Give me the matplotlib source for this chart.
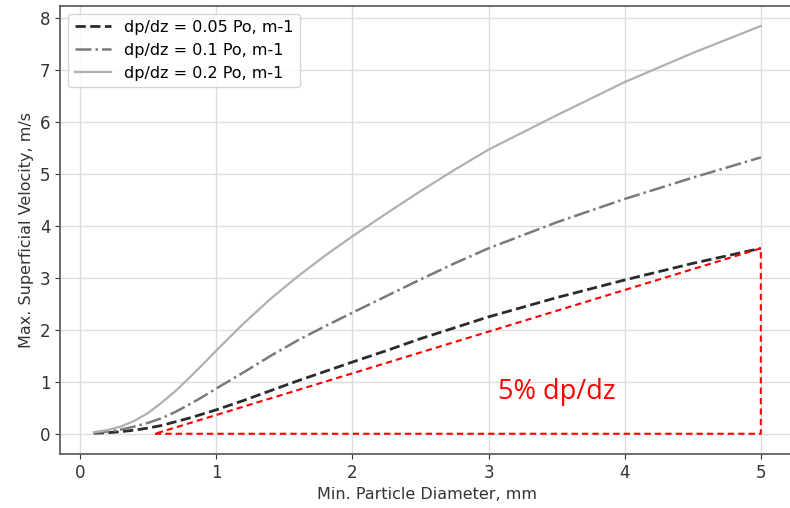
import matplotlib.pyplot as plt

# particle diameter, mm
diameter = [0.1, 0.2, 0.3, 0.4, 0.5, 0.6, 0.7, 0.8, 0.9, 1.0, 1.2, 1.4, 1.6, 1.8,
            2.0, 2.25, 2.5, 2.75, 3.0, 3.5, 4.0, 4.5, 5.0]

# max superficial velocity, m/s, for each pressure gradient
vel_005 = [0.01, 0.02, 0.04, 0.07, 0.11, 0.16, 0.23, 0.30, 0.38, 0.46, 0.64, 0.83, 1.02, 1.20,
           1.38, 1.60, 1.83, 2.04, 2.25, 2.62, 2.96, 3.28, 3.57]
vel_01 = [0.02, 0.04, 0.08, 0.14, 0.21, 0.30, 0.42, 0.56, 0.71, 0.87, 1.18, 1.50, 1.80, 2.07,
          2.33, 2.65, 2.97, 3.28, 3.57, 4.07, 4.52, 4.93, 5.32]
vel_02 = [0.03, 0.07, 0.14, 0.25, 0.40, 0.60, 0.82, 1.07, 1.33, 1.60, 2.12, 2.60, 3.03, 3.43,
          3.80, 4.24, 4.67, 5.08, 5.47, 6.13, 6.77, 7.33, 7.85]

# 5% triangle corners
tri_x = [0.55, 5.0, 5.0, 0.55]
tri_y = [0.0, 0.0, 3.57, 0.0]

fig = plt.figure(figsize=(7.9, 5.08), dpi=100)
ax = fig.add_axes([0.0763, 0.106, 0.929, 0.883])

ax.plot(diameter, vel_005, '--', color='#2b2b2b', lw=2, label='dp/dz = 0.05 Po, m-1')
ax.plot(diameter, vel_01, '-.', color='#7a7a7a', lw=1.8, label='dp/dz = 0.1 Po, m-1')
ax.plot(diameter, vel_02, '-', color='#b0b0b0', lw=1.6, label='dp/dz = 0.2 Po, m-1')

ax.plot(tri_x, tri_y, color='red', lw=1.5, ls=(0, (3, 2)))
ax.text(3.07, 0.8, '5% dp/dz', color='red', fontsize=19.5, family='Open Sans',
        ha='left', va='center')

ax.grid(True, color='#dddddd', lw=1)
ax.set_axisbelow(True)
for s in ax.spines.values():
    s.set_color('#555555')
    s.set_linewidth(1.2)
ax.tick_params(colors='#333333', labelsize=12)
ax.set_xlabel('Min. Particle Diameter, mm', fontsize=11.5, color='#333333')
ax.set_ylabel('Max. Superficial Velocity, m/s', fontsize=11.5, color='#333333')
ax.set_yticks(range(0, 9))
ax.legend(loc='upper left', fontsize=11.5, framealpha=0.8, edgecolor='#cccccc',
          handlelength=2.3)

fig.savefig('out.png', dpi=100)
